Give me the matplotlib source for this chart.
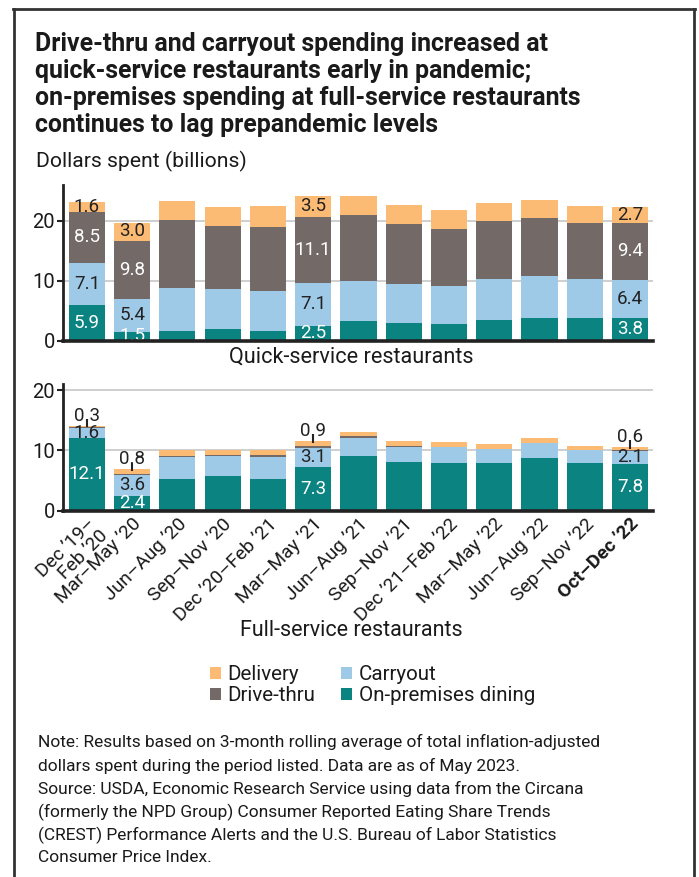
import matplotlib
matplotlib.use("Agg")
import matplotlib.pyplot as plt
from matplotlib.patches import Patch
from matplotlib.lines import Line2D
import numpy as np

plt.rcParams['font.family'] = ['Roboto', 'DejaVu Sans']

# ---------------- data ----------------
periods = ["Dec \u201919\u2013\nFeb \u201920", "Mar\u2013May \u201920", "Jun\u2013Aug \u201920",
           "Sep\u2013Nov \u201920", "Dec \u201920\u2013Feb \u201921", "Mar\u2013May \u201921",
           "Jun\u2013Aug \u201921", "Sep\u2013Nov \u201921", "Dec \u201921\u2013Feb \u201922",
           "Mar\u2013May \u201922", "Jun\u2013Aug \u201922", "Sep\u2013Nov \u201922",
           "Oct\u2013Dec \u201922"]

series_names = ["On-premises dining", "Carryout", "Drive-thru", "Delivery"]

qs_onprem = [5.9, 1.5, 1.6, 2.0, 1.6, 2.5, 3.3, 3.0, 2.8, 3.5, 3.8, 3.8, 3.8]
qs_carry  = [7.1, 5.4, 7.2, 6.6, 6.7, 7.1, 6.7, 6.5, 6.3, 6.8, 7.0, 6.5, 6.4]
qs_drive  = [8.5, 9.8, 11.3, 10.5, 10.6, 11.1, 10.9, 9.9, 9.5, 9.7, 9.7, 9.3, 9.4]
qs_deliv  = [1.6, 3.0, 3.2, 3.2, 3.5, 3.5, 3.3, 3.2, 3.2, 3.0, 3.0, 2.9, 2.7]

fs_onprem = [12.1, 2.4, 5.2, 5.7, 5.2, 7.3, 9.0, 8.0, 7.9, 7.9, 8.7, 7.9, 7.8]
fs_carry  = [1.6, 3.6, 3.7, 3.3, 3.7, 3.1, 3.0, 2.5, 2.6, 2.3, 2.5, 2.1, 2.1]
fs_drive  = [0.1, 0.1, 0.2, 0.3, 0.3, 0.3, 0.3, 0.2, 0.1, 0.1, 0.1, 0.1, 0.1]
fs_deliv  = [0.3, 0.8, 0.9, 0.8, 0.9, 0.9, 0.7, 0.8, 0.8, 0.7, 0.7, 0.6, 0.6]

labeled = [0, 1, 5, 12]

# ---------------- style ----------------
C_ONPREM = "#0b8381"
C_CARRY = "#9ecae8"
C_DRIVE = "#736966"
C_DELIV = "#fcbb75"
colors = [C_ONPREM, C_CARRY, C_DRIVE, C_DELIV]
txtcol = ["white", "#222222", "white", "#222222"]
DARK = "#222222"

W, H = 699, 877
fig = plt.figure(figsize=(W / 100, H / 100), dpi=100)

def fx(px):
    return px / W

def fy(py):
    return 1 - py / H

# border
bc = "#333333"
fig.add_artist(Line2D([fx(14), fx(14)], [fy(9), 0], color=bc, lw=2.0, transform=fig.transFigure))
fig.add_artist(Line2D([fx(694), fx(694)], [fy(9), 0], color=bc, lw=2.0, transform=fig.transFigure))
fig.add_artist(Line2D([fx(13.3), fx(694.7)], [fy(9), fy(9)], color=bc, lw=2.0, transform=fig.transFigure))

# title
title_lines = ["Drive-thru and carryout spending increased at",
               "quick-service restaurants early in pandemic;",
               "on-premises spending at full-service restaurants",
               "continues to lag prepandemic levels"]
for i, line in enumerate(title_lines):
    fig.text(fx(35), fy(44 + 27 * i), line, fontsize=17.9, fontweight='bold',
             color="#1a1a1a", va='center', ha='left')
fig.text(fx(36), fy(161), "Dollars spent (billions)", fontsize=15.2, color="#1a1a1a",
         va='center', ha='left')

x = np.arange(len(periods))
L, R = 63.3, 652.7


def draw(ax, data, ylim_top, label_small=False):
    bottoms = np.zeros(len(x))
    for k, vals in enumerate(data):
        vals = np.array(vals)
        ax.bar(x, vals, bottom=bottoms, width=0.8, color=colors[k], zorder=3, linewidth=0)
        for i in labeled:
            cy = bottoms[i] + vals[i] / 2
            if label_small and k == 2:
                continue
            if label_small and k == 3:
                top = bottoms[i] + vals[i]
                ax.vlines(i, top - vals[i] * 0.5, top + 1.05, color=DARK, lw=1.5, zorder=5)
                ax.text(i, top + 0.8, f"{vals[i]:.1f}", ha='center', va='baseline',
                        fontsize=13.5, color=DARK, zorder=6)
                continue
            ax.text(i, cy, f"{vals[i]:.1f}", ha='center', va='center',
                    fontsize=13.5, color=txtcol[k], zorder=5)
        bottoms = bottoms + vals
    ax.set_xlim(-0.52, 12.5)
    ax.set_ylim(0, ylim_top)
    ax.set_yticks([0, 10, 20])
    ax.tick_params(axis='y', labelsize=14.5, length=4, width=1.5, color=DARK,
                   labelcolor="#1a1a1a", pad=2)
    ax.grid(axis='y', color="#cccccc", lw=1.3, zorder=0)
    ax.set_axisbelow(True)
    for s in ['top', 'right']:
        ax.spines[s].set_visible(False)
    ax.spines['left'].set_linewidth(2.0)
    ax.spines['left'].set_color(DARK)
    ax.spines['bottom'].set_linewidth(2.6)
    ax.spines['bottom'].set_color(DARK)
    ax.spines['bottom'].set_zorder(6)


ax1 = fig.add_axes([fx(L), fy(340.7), fx(R) - fx(L), 156 / H])
draw(ax1, [qs_onprem, qs_carry, qs_drive, qs_deliv], 26)
ax1.set_xticks([])
fig.text(fx(351), fy(357), "Quick-service restaurants", fontsize=15.6, color="#1a1a1a",
         ha='center', va='center')

ax2 = fig.add_axes([fx(L), fy(510.7), fx(R) - fx(L), 126.7 / H])
draw(ax2, [fs_onprem, fs_carry, fs_drive, fs_deliv], 21, label_small=True)
ax2.set_xticks(x)
ax2.set_xticklabels(periods, rotation=45, ha='right', va='top', rotation_mode='anchor',
                    fontsize=13.8, color="#1a1a1a", linespacing=0.95)
ax2.tick_params(axis='x', length=0, pad=3)
ax2.get_xticklabels()[-1].set_fontweight('bold')
fig.text(fx(351), fy(630), "Full-service restaurants", fontsize=15.5, color="#1a1a1a",
         ha='center', va='center')

# legend
handles = [Patch(facecolor=C_DELIV), Patch(facecolor=C_DRIVE),
           Patch(facecolor=C_CARRY), Patch(facecolor=C_ONPREM)]
labels = ["Delivery", "Drive-thru", "Carryout", "On-premises dining"]
fig.legend(handles, labels, ncol=2, loc='upper left', bbox_to_anchor=(fx(202), fy(657)),
           frameon=False, fontsize=14.8, handlelength=0.5, handleheight=0.5,
           handletextpad=0.35, columnspacing=1.25, labelspacing=0.1, borderaxespad=0,
           labelcolor="#1a1a1a")

notes = ["Note: Results based on 3-month rolling average of total inflation-adjusted",
         "dollars spent during the period listed. Data are as of May 2023.",
         "Source: USDA, Economic Research Service using data from the Circana",
         "(formerly the NPD Group) Consumer Reported Eating Share Trends",
         "(CREST) Performance Alerts and the U.S. Bureau of Labor Statistics",
         "Consumer Price Index."]
ys = [742, 766, 789, 812, 835, 858]
for t, yy in zip(notes, ys):
    fig.text(fx(38), fy(yy), t, fontsize=12.55, color="#1a1a1a", ha='left', va='center')

fig.savefig("out.png", dpi=100)
